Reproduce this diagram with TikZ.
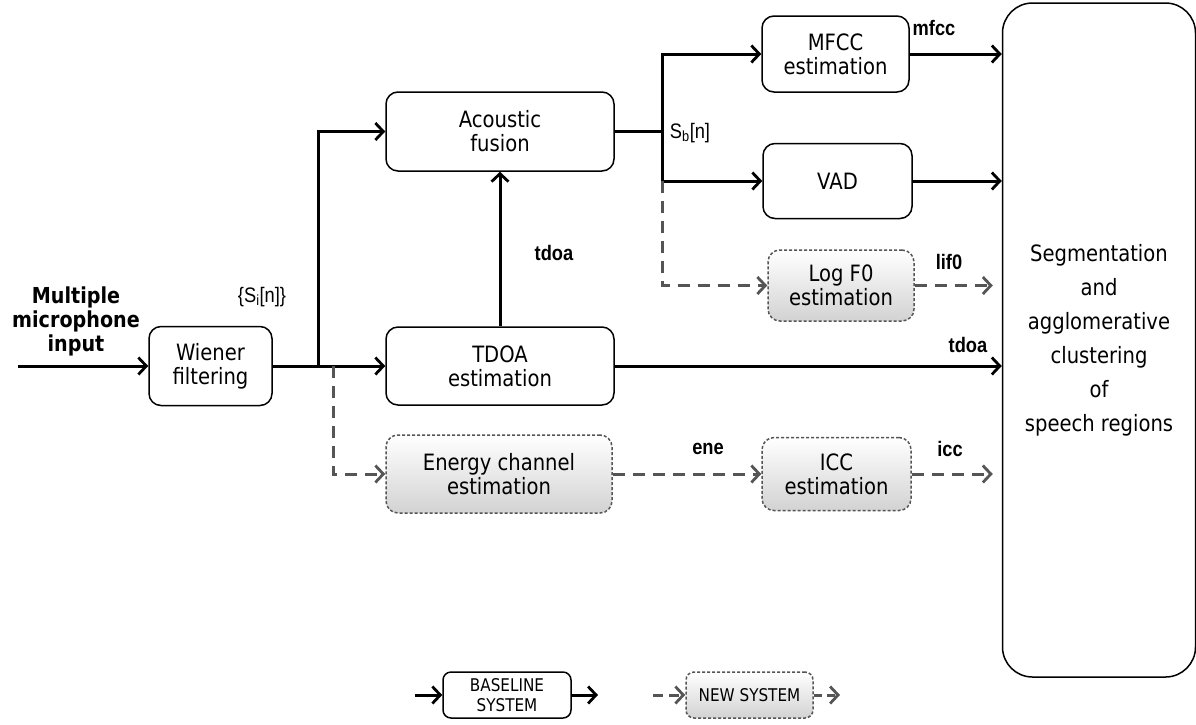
\documentclass[tikz,border=0pt]{standalone}
\usepackage{fontspec}
\setmainfont{DejaVu Sans}[FakeStretch=0.87]
\newfontfamily\arial{Liberation Sans}[FakeStretch=0.87]
\usetikzlibrary{arrows.meta}
\definecolor{dgray}{RGB}{85,85,85}
\tikzset{
  box/.style={draw, line width=1.5pt, rounded corners=12pt, align=center, inner sep=0pt,
    font=\fontsize{22.5}{24}\selectfont},
  newbox/.style={box, draw=dgray, dash pattern=on 3pt off 2pt, top color=white, bottom color=gray!35},
  sol/.style={line width=3pt, -{Straight Barb[length=8pt,width=17pt,line width=2.8pt]}},
  dsh/.style={line width=3pt, draw=dgray, dash pattern=on 12pt off 8pt,
    -{Straight Barb[length=8pt,width=17pt,line width=2.8pt]}},
  lab/.style={font=\arial\bfseries\fontsize{21}{22}\selectfont, inner sep=0pt},
  sig/.style={font=\arial\fontsize{21}{22}\selectfont, inner sep=0pt},
}
\begin{document}
\begin{tikzpicture}[x=1pt, y=-1pt]
\useasboundingbox (0,0) rectangle (1196,724);

% boxes
\node[box, minimum width=123pt, minimum height=79pt] (wiener) at (210.5,366) {Wiener\\filtering};
\node[box, minimum width=228pt, minimum height=79pt] (af) at (500,131.5) {Acoustic\\fusion};
\node[box, minimum width=228pt, minimum height=78pt] (tdoa) at (500,366) {TDOA\\estimation};
\node[box, minimum width=147pt, minimum height=76pt] (mfcc) at (835.5,54) {MFCC\\estimation};
\node[box, minimum width=149pt, minimum height=75pt] (vad) at (837.5,181) {VAD};
\node[newbox, minimum width=146pt, minimum height=71pt] (logf0) at (841,285.5) {Log F0\\estimation};
\node[newbox, minimum width=226pt, minimum height=78pt] (energy) at (499,474) {Energy channel\\estimation};
\node[newbox, minimum width=149pt, minimum height=73pt] (icc) at (836.5,474) {ICC\\estimation};
\node[box, rounded corners=30pt, minimum width=193pt, minimum height=674pt,
  font=\fontsize{22.5}{34}\selectfont] (seg) at (1099,340)
  {Segmentation\\and\\agglomerative\\clustering\\of\\speech regions};

% input
\node[font=\bfseries\fontsize{22}{24}\selectfont, align=center, inner sep=0pt] (inlab) at (76,321)
  {Multiple\\microphone\\input};
\coordinate (in) at (18,366);
\draw[sol] (in) -- (wiener.west);
\draw[sol] (wiener.east) -- (tdoa.west);
\coordinate (j1) at (318,366);
\coordinate (j2) at (333,366);
\draw[sol] (j1) |- (af.west);
\draw[dsh] (j2) |- (energy.west);
\draw[sol] (tdoa.north) -- (af.south);
\draw[sol] (tdoa.east) -- (seg.west |- tdoa.east);

% acoustic fusion output
\coordinate (j3) at (662,131.5);
\coordinate (j4) at (662,181);
\draw[line width=3pt] (af.east) -- (j3);
\draw[sol] (j3) |- (mfcc.west);
\draw[sol] (j3) |- (vad.west);
\draw[dsh] (j4) |- (logf0.west);

% to segmentation
\draw[sol] (mfcc.east) -- (seg.west |- mfcc.east);
\draw[sol] (vad.east) -- (seg.west |- vad.east);
\draw[dsh, shorten >=9pt] (logf0.east) -- (seg.west |- logf0.east);
\draw[dsh] (energy.east) -- (icc.west);
\draw[dsh, shorten >=9pt] (icc.east) -- (seg.west |- icc.east);

% labels
\node[sig] (si) at (262,297) {\{S\textsubscript{i}[n]\}};
\node[sig] (sb) at (690,133) {S\textsubscript{b}[n]};
\node[lab] (l1) at (554,253) {tdoa};
\node[lab] (l2) at (968,345) {tdoa};
\node[lab] (l3) at (934,28) {mfcc};
\node[lab] (l4) at (949,262) {lif0};
\node[lab] (l5) at (708,449) {ene};
\node[lab] (l6) at (950,449) {icc};

% legend
\node[box, rounded corners=8pt, minimum width=128pt, minimum height=46pt,
  font=\fontsize{17.5}{20}\selectfont] (lb) at (507,695) {BASELINE\\SYSTEM};
\coordinate (lb1) at (415,695);
\coordinate (lb2) at (598,695);
\draw[sol] (lb1) -- (lb.west);
\draw[sol] (lb.east) -- (lb2);
\node[newbox, rounded corners=8pt, minimum width=127pt, minimum height=46pt,
  font=\fontsize{17.5}{20}\selectfont] (ln) at (749.5,695) {NEW SYSTEM};
\coordinate (ln1) at (653,695);
\coordinate (ln2) at (840,695);
\draw[dsh, dash pattern=on 10pt off 6pt] (ln1) -- (ln.west);
\draw[dsh, dash pattern=on 8pt off 5pt] (ln.east) -- (ln2);
\end{tikzpicture}
\end{document}
